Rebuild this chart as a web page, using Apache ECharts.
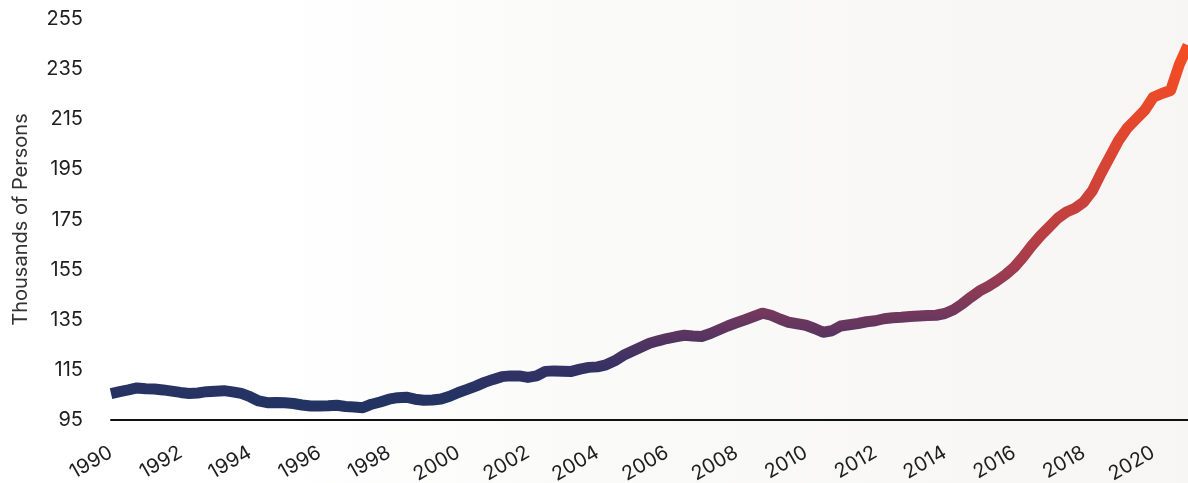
<!DOCTYPE html>
<html>
<head>
<meta charset="utf-8">
<script src="https://cdn.jsdelivr.net/npm/echarts@6/dist/echarts.min.js"></script>
<style>
  html, body { margin: 0; padding: 0; background: #ffffff; }
  #chart { width: 1188px; height: 483px; }
</style>
</head>
<body>
<div id="chart"></div>
<script>
// Quarterly series, first quarter of 1990 through the first quarter of 2021
const startYear = 1990;
const quarterStep = 0.25;
const persons = [
  105.5, 106.3, 107.0, 107.8,   // 1990
  107.5, 107.4, 107.0, 106.5,   // 1991
  106.0, 105.6, 105.8, 106.3,   // 1992
  106.5, 106.7, 106.2, 105.6,   // 1993
  104.3, 102.6, 101.9, 102.0,   // 1994
  101.9, 101.6, 101.0, 100.6,   // 1995
  100.6, 100.7, 100.9, 100.4,   // 1996
  100.2, 99.9, 101.3, 102.2,    // 1997
  103.3, 103.9, 104.1, 103.3,   // 1998
  102.9, 103.0, 103.4, 104.5,   // 1999
  106.0, 107.2, 108.5, 110.0,   // 2000
  111.2, 112.3, 112.6, 112.6,   // 2001
  112.0, 112.6, 114.4, 114.6,   // 2002
  114.5, 114.4, 115.3, 116.0,   // 2003
  116.2, 117.0, 118.6, 120.8,   // 2004
  122.4, 124.0, 125.6, 126.6,   // 2005
  127.5, 128.2, 128.8, 128.5,   // 2006
  128.3, 129.5, 131.0, 132.5,   // 2007
  133.8, 135.0, 136.3, 137.6,   // 2008
  136.8, 135.3, 134.0, 133.4,   // 2009
  132.8, 131.5, 130.0, 130.6,   // 2010
  132.5, 133.0, 133.5, 134.2,   // 2011
  134.6, 135.4, 135.8, 136.0,   // 2012
  136.3, 136.5, 136.7, 136.8,   // 2013
  137.5, 139.0, 141.3, 144.0,   // 2014
  146.5, 148.3, 150.5, 153.0,   // 2015
  156.0, 160.0, 164.5, 168.5,   // 2016
  172.0, 175.5, 178.0, 179.5,   // 2017
  182.0, 186.5, 193.5, 200.0,   // 2018
  206.5, 211.5, 215.0, 218.5,   // 2019
  223.8, 225.3, 226.5, 236.8,   // 2020
  244.5                         // 2021
];

// Axis settings
const yMin = 95;
const yMax = 255;
const yStep = 20;
const xMin = 1990;
const xMax = 2021;
const xStep = 2;

// Line colour ramp along the value scale, low to high
const rampColors = [
  '#21325f', '#243363', '#333264', '#4e3362', '#6b375e', '#873a57',
  '#a03c4f', '#b23e47', '#c1403f', '#cc4239', '#d64435', '#de4631',
  '#e4482d', '#ea4a29', '#ef4c25', '#f34e22'
];

const seriesData = persons.map((v, i) => [startYear + i * quarterStep, v]);

const labelFont = 'Inter, "Noto Sans", sans-serif';

const chart = echarts.init(document.getElementById('chart'), null, { renderer: 'canvas' });
chart.setOption({
  backgroundColor: new echarts.graphic.LinearGradient(0, 0, 1, 0, [
    { offset: 0, color: '#ffffff' },
    { offset: 0.22, color: '#ffffff' },
    { offset: 0.5, color: '#fafaf9' },
    { offset: 1, color: '#f7f6f5' }
  ]),
  animation: false,
  grid: { left: 111, right: 0, top: 19, bottom: 63, containLabel: false, outerBoundsMode: 'none' },
  visualMap: {
    show: false,
    type: 'continuous',
    dimension: 1,
    min: 95,
    max: 245,
    inRange: { color: rampColors }
  },
  xAxis: {
    type: 'value',
    min: xMin,
    max: xMax,
    interval: xStep,
    axisLine: { show: true, onZero: false, lineStyle: { color: '#111111', width: 2 } },
    axisTick: { show: false },
    splitLine: { show: false },
    axisLabel: {
      rotate: 30,
      margin: 31,
      fontFamily: labelFont,
      fontSize: 20,
      color: '#1e1e1e',
      formatter: function (v) {
        const r = Math.round(v);
        return (Math.abs(v - r) < 1e-6 && r % 2 === 0) ? String(r) : '';
      }
    }
  },
  yAxis: {
    type: 'value',
    min: yMin,
    max: yMax,
    interval: yStep,
    name: 'Thousands of Persons',
    nameLocation: 'middle',
    nameGap: 80,
    nameTextStyle: { fontFamily: labelFont, fontSize: 20, color: '#333333' },
    axisLine: { show: false },
    axisTick: { show: false },
    splitLine: { show: false },
    axisLabel: {
      margin: 28,
      fontFamily: labelFont,
      fontSize: 20,
      color: '#1e1e1e'
    }
  },
  series: [{
    type: 'line',
    data: seriesData,
    showSymbol: false,
    smooth: false,
    lineStyle: { width: 11, join: 'round', cap: 'butt' }
  }]
});
</script>
</body>
</html>
